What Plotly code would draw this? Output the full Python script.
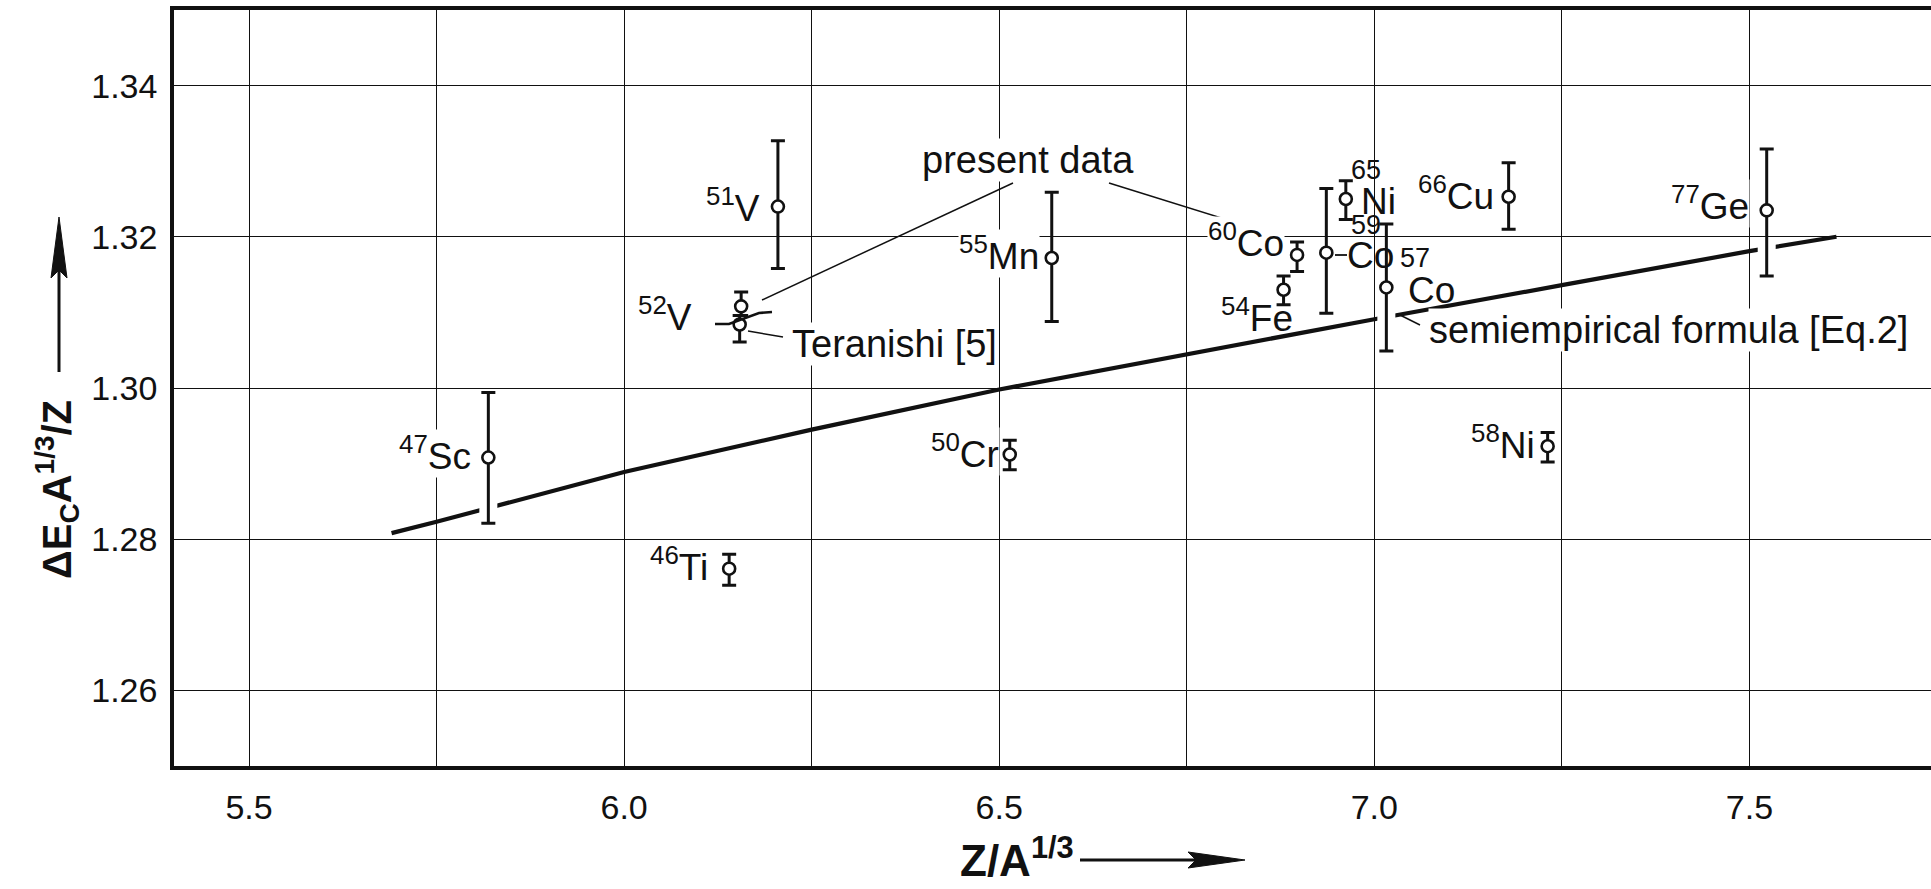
import numpy as np
import plotly.graph_objects as go

# ---------------- data ----------------
mass_number = ["47", "46", "50", "51", "52", "55", "54", "60", "59", "65", "57", "58", "66", "77"]
element     = ["Sc", "Ti", "Cr", "V", "V", "Mn", "Fe", "Co", "Co", "Ni", "Co", "Ni", "Cu", "Ge"]
z_a13       = [5.819, 6.140, 6.514, 6.205, 6.156, 6.570, 6.879, 6.897, 6.936, 6.962, 7.016, 7.231, 7.179, 7.523]
dec_value   = [1.2908, 1.2761, 1.2912, 1.3240, 1.3108, 1.3172, 1.3130, 1.3176, 1.3179, 1.3250, 1.3133, 1.2923, 1.3253, 1.3235]
err_up      = [0.0086, 0.0019, 0.0019, 0.0087, 0.0019, 0.0087, 0.0018, 0.0017, 0.0085, 0.0024, 0.0084, 0.0018, 0.0045, 0.0081]
err_down    = [0.0087, 0.0022, 0.0020, 0.0082, 0.0012, 0.0084, 0.0020, 0.0022, 0.0080, 0.0027, 0.0084, 0.0021, 0.0043, 0.0087]

teranishi_x    = [6.154]
teranishi_y    = [1.3084]
teranishi_up   = [0.0012]
teranishi_down = [0.0023]

formula_x = [5.69, 5.75, 6.0, 6.25, 6.5, 6.75, 7.0, 7.25, 7.5, 7.616]
formula_y = [1.2808, 1.2823, 1.2889, 1.2945, 1.2998, 1.3045, 1.3091, 1.3136, 1.3181, 1.3200]

x_tick_vals = [5.5, 5.75, 6.0, 6.25, 6.5, 6.75, 7.0, 7.25, 7.5]
x_tick_text = ["5.5", "", "6.0", "", "6.5", "", "7.0", "", "7.5"]
y_tick_vals = [1.26, 1.28, 1.30, 1.32, 1.34]
y_tick_text = ["1.26", "1.28", "1.30", "1.32", "1.34"]

# ---------------- layout constants ----------------
W, H = 1931, 889
ML, MR, MT, MB = 174, 0, 10, 123
X_RANGE = [5.40, 7.742]
Y_RANGE = [1.25, 1.35]
PW, PH = W - ML - MR, H - MT - MB
FONT = "Liberation Sans, Arial, DejaVu Sans, sans-serif"
INK = "#111111"
LABEL_SIZE = 37
TEXT_SIZE = 38


def px_x(px):
    return X_RANGE[0] + (px - ML) / PW * (X_RANGE[1] - X_RANGE[0])


def px_y(py):
    return Y_RANGE[1] - (py - MT) / PH * (Y_RANGE[1] - Y_RANGE[0])


def paper_x(px):
    return (px - ML) / PW


def paper_y(py):
    return (MT + PH - py) / PH


fig = go.Figure()

# semiempirical formula curve
fig.add_trace(go.Scatter(x=formula_x, y=formula_y, mode="lines",
                         line=dict(color=INK, width=4.2), hoverinfo="skip", showlegend=False))

# white gaps where error bars cross the curve
hx, hy = [], []
for xv, yv, up, dn in zip(z_a13, dec_value, err_up, err_down):
    if formula_x[0] <= xv <= formula_x[-1]:
        cy = float(np.interp(xv, formula_x, formula_y))
        if yv - dn < cy < yv + up:
            hx += [xv, xv, None]
            hy += [cy - 0.0010, cy + 0.0010, None]
fig.add_trace(go.Scatter(x=hx, y=hy, mode="lines", line=dict(color="white", width=18),
                         hoverinfo="skip", showlegend=False))

marker_style = dict(symbol="circle", size=12, color="white", line=dict(color=INK, width=2.6))

# present data
fig.add_trace(go.Scatter(
    x=z_a13, y=dec_value, mode="markers", marker=marker_style,
    error_y=dict(type="data", symmetric=False, array=err_up, arrayminus=err_down,
                 color=INK, thickness=3, width=7),
    showlegend=False, hoverinfo="skip"))

# Teranishi
fig.add_trace(go.Scatter(
    x=teranishi_x, y=teranishi_y, mode="markers", marker=marker_style,
    error_y=dict(type="data", symmetric=False, array=teranishi_up, arrayminus=teranishi_down,
                 color=INK, thickness=3, width=7),
    showlegend=False, hoverinfo="skip"))

annotations = []

# point labels: (xshift of right edge, yshift of box centre, white background)
label_style = {
    0: (-16, 4, True),
    1: (-20, 4, True),
    2: (-10, 3.5, True),
    3: (-17, 1.5, True),
    4: (-48, -8, True),
    5: (-12, 4, True),
    6: (10, -26, False),
    7: (-12, 14, True),
    11: (-12, 4, True),
    12: (-14, 3, True),
    13: (-17, 7, True),
}
for i, (dx, dy, bg) in label_style.items():
    annotations.append(dict(
        x=z_a13[i], y=dec_value[i], xref="x", yref="y", showarrow=False,
        text=f"<sup>{mass_number[i]}</sup>{element[i]}",
        xanchor="right", yanchor="middle", xshift=dx, yshift=dy,
        font=dict(family=FONT, size=LABEL_SIZE, color=INK),
        bgcolor="white" if bg else None, borderpad=0))

# stacked labels (mass number above the symbol): ((dx, dy) number, (dx, dy) symbol)
stacked = {8: ((23, 28), (19, -3)), 9: ((3, 29.5), (13, -2.5)), 10: ((12, 29), (20, -3))}
for i, ((mdx, mdy), (edx, edy)) in stacked.items():
    annotations.append(dict(
        x=z_a13[i], y=dec_value[i], xref="x", yref="y", showarrow=False,
        text=mass_number[i], xanchor="left", yanchor="middle", xshift=mdx, yshift=mdy,
        font=dict(family=FONT, size=27, color=INK)))
    annotations.append(dict(
        x=z_a13[i], y=dec_value[i], xref="x", yref="y", showarrow=False,
        text=element[i], xanchor="left", yanchor="middle", xshift=edx, yshift=edy,
        font=dict(family=FONT, size=LABEL_SIZE, color=INK)))

# descriptive texts
annotations.append(dict(x=px_x(1028), y=px_y(160), xref="x", yref="y", showarrow=False,
                        text="present data", xanchor="center", yanchor="middle",
                        font=dict(family=FONT, size=TEXT_SIZE, color=INK), bgcolor="white", borderpad=0))
annotations.append(dict(x=px_x(791), y=px_y(344), xref="x", yref="y", showarrow=False,
                        text="Teranishi [5]", xanchor="left", yanchor="middle",
                        font=dict(family=FONT, size=TEXT_SIZE, color=INK), bgcolor="white", borderpad=0))
annotations.append(dict(x=px_x(1428), y=px_y(330), xref="x", yref="y", showarrow=False,
                        text="semiempirical formula [Eq.2]", xanchor="left", yanchor="middle",
                        font=dict(family=FONT, size=TEXT_SIZE, color=INK), bgcolor="white", borderpad=0))

# axis titles
annotations.append(dict(x=paper_x(57), y=paper_y(490), xref="paper", yref="paper", showarrow=False,
                        text="ΔE<sub>C</sub>A<sup>1/3</sup>/Z", textangle=-90,
                        xanchor="center", yanchor="middle",
                        font=dict(family=FONT, size=40, color=INK, weight=700)))
annotations.append(dict(x=paper_x(958), y=paper_y(857), xref="paper", yref="paper", showarrow=False,
                        text="Z/A<sup>1/3</sup>", xanchor="left", yanchor="middle",
                        font=dict(family=FONT, size=44, color=INK, weight=700)))

shapes = []
# leader lines (reference pixel positions)
leaders = [
    ([(1013, 183), (762, 300)], 1.5),
    ([(1109, 183), (1276, 235)], 1.5),
    ([(748, 331), (783, 337)], 1.5),
    ([(1400, 315), (1420, 325)], 1.5),
    ([(1335, 255), (1347, 255)], 1.8),
    ([(715, 324), (729, 324), (759, 313), (772, 312)], 2.6),
]
for pts, w in leaders:
    path = "M " + " L ".join(f"{px_x(a)},{px_y(b)}" for a, b in pts)
    shapes.append(dict(type="path", xref="x", yref="y", path=path, line=dict(color=INK, width=w)))


def ppath(pts, close=False):
    s = "M " + " L ".join(f"{paper_x(a)},{paper_y(b)}" for a, b in pts)
    return s + (" Z" if close else "")


# axis arrows
shapes.append(dict(type="path", xref="paper", yref="paper", path=ppath([(59, 372), (59, 268)]),
                   line=dict(color=INK, width=3)))
shapes.append(dict(type="path", xref="paper", yref="paper",
                   path=ppath([(59, 217), (51, 278), (59, 270), (67, 278)], close=True),
                   fillcolor=INK, line=dict(color=INK, width=1)))
shapes.append(dict(type="path", xref="paper", yref="paper", path=ppath([(1080, 860), (1200, 860)]),
                   line=dict(color=INK, width=3)))
shapes.append(dict(type="path", xref="paper", yref="paper",
                   path=ppath([(1245, 860), (1188, 852), (1196, 860), (1188, 868)], close=True),
                   fillcolor=INK, line=dict(color=INK, width=1)))

fig.update_layout(
    width=W, height=H,
    margin=dict(l=ML, r=MR, t=MT, b=MB, pad=0),
    paper_bgcolor="white", plot_bgcolor="white",
    showlegend=False,
    annotations=annotations, shapes=shapes,
    font=dict(family=FONT, color=INK),
    xaxis=dict(range=X_RANGE, tickmode="array", tickvals=x_tick_vals, ticktext=x_tick_text,
               showgrid=True, gridcolor=INK, gridwidth=1.3, zeroline=False,
               showline=True, linecolor=INK, linewidth=3.5, mirror=True,
               ticks="", tickfont=dict(family=FONT, size=34, color=INK), ticklabelstandoff=8),
    yaxis=dict(range=Y_RANGE, tickmode="array", tickvals=y_tick_vals, ticktext=y_tick_text,
               showgrid=True, gridcolor=INK, gridwidth=1.3, zeroline=False,
               showline=True, linecolor=INK, linewidth=3.5, mirror=False,
               ticks="", tickfont=dict(family=FONT, size=34, color=INK), ticklabelstandoff=6),
)

fig.write_html("out.html")
